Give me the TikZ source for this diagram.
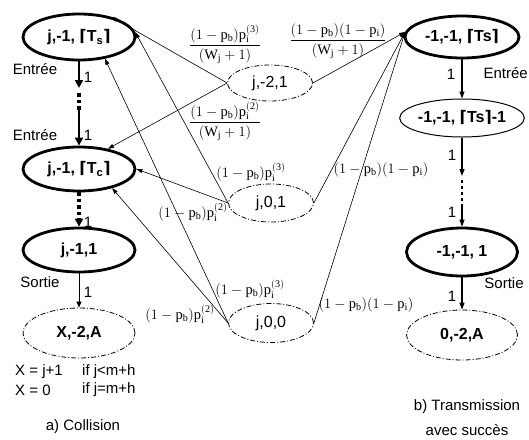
\documentclass[tikz,border=0pt]{standalone}
\usepackage{fontspec}
\setmainfont{Liberation Serif}
\newfontfamily\arial{Liberation Sans}
\newfontfamily\djv{DejaVu Sans}
\usetikzlibrary{shapes.geometric,arrows.meta}
\newcommand\lcl{{\djv\bfseries ⌈}}
\newcommand\rcl{{\djv\bfseries ⌉}}
\newcommand\pf[1]{$(1-\mathrm{p_b})\mathrm{p_i^{(#1)}}$}
\newcommand\pq{$(1-\mathrm{p_b})(1-\mathrm{p_i})$}
\begin{document}
\begin{tikzpicture}[x=1pt,y=-1pt,
  st/.style={ellipse, inner sep=0pt, font=\arial\fontsize{16}{18}\selectfont\bfseries},
  boldn/.style={st, draw, line width=2.8pt},
  thinn/.style={st, draw, line width=1pt},
  ddn/.style={st, draw, line width=0.8pt, dash pattern=on 5pt off 2pt on 1pt off 2pt},
  midn/.style={ellipse, inner sep=0pt, draw, line width=0.8pt, dash pattern=on 5pt off 2pt on 1pt off 2pt, font=\arial\fontsize{16}{18}\selectfont, minimum width=85pt},
  edge/.style={line width=0.6pt, -{Triangle[length=6pt,width=4pt]}},
  thickarrow/.style={line width=2.6pt, -{Triangle[length=8pt,width=8pt]}},
  thickdots/.style={line width=3.5pt, dash pattern=on 3.5pt off 3pt},
  medarrow/.style={line width=1.2pt, -{Triangle[length=7pt,width=5pt]}},
  lab/.style={font=\arial\fontsize{15}{17}\selectfont, inner sep=0pt},
  ml/.style={font=\fontsize{14.5}{16}\selectfont, inner sep=0pt}
]
\useasboundingbox (0,0) rectangle (529,439);

% left column
\node[boldn, minimum width=112pt, minimum height=46pt] (A) at (79,37) {j,-1, \lcl T\textsubscript{s}\rcl};
\node[boldn, minimum width=112pt, minimum height=44pt] (B) at (79,169) {j,-1, \lcl T\textsubscript{c}\rcl};
\node[boldn, minimum width=112pt, minimum height=44pt] (C) at (79,250) {j,-1,1};
\node[ddn, minimum width=112pt, minimum height=50pt] (D) at (79,333) {X,-2,A};

% right column
\node[boldn, minimum width=114pt, minimum height=42pt] (E) at (462,37) {-1,-1, \lcl Ts\rcl};
\node[thinn, minimum width=115pt, minimum height=38pt] (F) at (462,118) {-1,-1, \lcl Ts\rcl-1};
\node[boldn, minimum width=111pt, minimum height=48pt] (G) at (462,252) {-1,-1, 1};
\node[ddn, minimum width=111pt, minimum height=50pt] (H) at (462,335) {0,-2,A};

% middle nodes
\node[midn, minimum height=36pt] (M1) at (270,83) {j,-2,1};
\node[midn, minimum height=38pt] (M2) at (271,203) {j,0,1};
\node[midn, minimum height=39pt] (M3) at (271,323) {j,0,0};

% left vertical chain
\coordinate (a1) at (79,88);
\coordinate (a2) at (79,93);
\coordinate (a3) at (79,110);
\draw[thickarrow] (A.south) -- (a1);
\draw[thickdots] (a2) -- (a3);
\draw[thickarrow] (a3) -- (B.north);
\draw[thickdots, -{Triangle[length=8pt,width=8pt]}] (B.south) -- (C.north);
\draw[line width=0.7pt, -{Triangle[length=6pt,width=5pt]}] (C.south) -- (D.north);

% right vertical chain
\coordinate (f1) at (462,176);
\coordinate (f2) at (462,180);
\coordinate (f3) at (462,204);
\draw[medarrow] (E.south) -- (F.north);
\draw[medarrow] (F.south) -- (f1);
\draw[line width=2.6pt, dash pattern=on 3pt off 3pt] (f2) -- (f3);
\draw[medarrow] (f3) -- (G.north);
\draw[medarrow] (G.south) -- (H.north);

% middle edges
\draw[edge] (M1.west) -- (A.32);
\draw[edge] (M1.west) -- (B.35);
\draw[edge] (M1.east) -- (E.175);
\draw[edge] (M2.west) -- (A.5);
\draw[edge] (M2.west) -- (B.0);
\draw[edge] (M2.east) -- (E.175);
\draw[edge] (M3.west) -- (A.-40);
\draw[edge] (M3.west) -- (B.-30);
\draw[edge] (M3.east) -- (E.175);

% edge labels
\node[ml] (l1) at (225,44) {$\displaystyle\frac{(1-\mathrm{p_b})\mathrm{p_i^{(3)}}}{(\mathrm{W_j}+1)}$};
\node[ml] (l2) at (225,121) {$\displaystyle\frac{(1-\mathrm{p_b})\mathrm{p_i^{(2)}}}{(\mathrm{W_j}+1)}$};
\node[ml] (l3) at (338,41) {$\displaystyle\frac{(1-\mathrm{p_b})(1-\mathrm{p_i})}{(\mathrm{W_j}+1)}$};
\node[ml] (l4) at (251,172) {\pf{3}};
\node[ml] (l5) at (193,212) {\pf{2}};
\node[ml] (l6) at (381,170) {\pq};
\node[ml] (l7) at (250,289) {\pf{3}};
\node[ml] (l8) at (180,314) {\pf{2}};
\node[ml] (l9) at (366,305) {\pq};

% side labels left
\node[lab] (e1) at (35,69) {Entrée};
\node[lab] (e2) at (35,135) {Entrée};
\node[lab] (s1) at (40,282) {Sortie};
\node[lab] (o1) at (88,77) {1};
\node[lab] (o2) at (88,135) {1};
\node[lab] (o3) at (88,222) {1};
\node[lab] (o4) at (88,292) {1};

% side labels right
\node[lab, anchor=east] (e3) at (528,73) {Entrée};
\node[lab] (s2) at (504,283) {Sortie};
\node[lab] (o5) at (451,74) {1};
\node[lab] (o6) at (452,155) {1};
\node[lab] (o7) at (452,212) {1};
\node[lab] (o8) at (452,296) {1};

% bottom texts
\node[lab, anchor=west] (x1) at (15,372) {X = j+1};
\node[lab, anchor=west] (x2) at (82,372) {if j<m+h};
\node[lab, anchor=west] (x3) at (15,390) {X = 0};
\node[lab, anchor=west] (x4) at (82,390) {if j=m+h};
\node[lab] (ca) at (83,427) {a) Collision};
\node[lab] (cb1) at (467,407) {b) Transmission};
\node[lab] (cb2) at (467,430) {avec succès};
\end{tikzpicture}
\end{document}
